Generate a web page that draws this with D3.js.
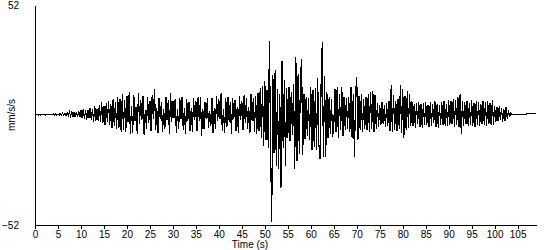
<!DOCTYPE html>
<html>
<head>
<meta charset="utf-8">
<script src="https://cdn.jsdelivr.net/npm/d3@7"></script>
<style>
  body { margin: 0; background: #fff; }
  svg { display: block; }
  .axis text { font-family: "Liberation Sans", Arial, sans-serif; font-size: 10px; fill: #000; }
  .axis path, .axis line { stroke: #000; shape-rendering: crispEdges; }
</style>
</head>
<body>
<svg id="chart" width="550" height="250"></svg>
<script>
// seismogram trace, one sample every 0.25 s (mm/s/s)
const sampleStep = 0.25;
const velocity = [
  0.3, 0.0, 0.3, 0.0, 0.3, 0.0, 0.3, 0.0,
  0.3, 0.0, 0.3, 0.3, 0.3, 0.3, 0.4, 0.3,
  0.6, 0.1, 0.7, 0.0, 0.5, -0.1, 0.8, 0.0,
  0.9, -0.2, 0.7, -0.4, 1.1, -0.3, 1.4, -0.6,
  1.6, -0.7, 1.2, -1.1, 1.5, -0.8, 1.8, -1.0,
  2.3, -1.3, 2.7, -1.8, 2.1, -2.2, 2.5, -1.6,
  3.4, -2.3, 2.7, -3.1, 4.1, -2.6, 3.0, -3.0,
  4.9, -3.2, 6.1, -3.9, 4.2, -4.5, 5.5, -3.5,
  6.5, -4.8, 5.1, -6.3, 7.4, -5.1, 6.2, -6.7,
  8.6, -5.9, 7.7, -7.8, 9.9, -7.0, 7.1, -8.2,
  9.2, -3.1, 10.7, -8.9, 4.1, -8.5, 9.4, -2.6,
  3.8, -9.1, 10.5, -4.2, 7.2, -2.5, 8.9, -9.6,
  2.5, -6.5, 8.7, -3.7, 6.8, -7.6, 9.6, -2.1,
  12.3, -7.2, 3.1, -8.6, 8.0, -1.9, 6.2, -8.0,
  2.9, -6.8, 8.5, -2.5, 7.3, -9.0, 10.4, -3.1,
  6.6, -1.6, 7.7, -8.3, 2.9, -6.5, 8.2, -2.0,
  8.4, -6.9, 3.4, -9.1, 7.6, -2.7, 6.1, -7.4,
  3.2, -7.8, 7.9, -2.2, 6.7, -7.6, 8.7, -3.0,
  8.5, -9.8, 3.0, -6.7, 6.2, -2.0, 7.8, -6.3,
  2.1, -5.4, 8.2, -8.5, 3.5, -6.6, 8.9, -2.9,
  7.4, -2.1, 10.5, -7.5, 2.8, -8.4, 8.0, -5.6,
  8.6, -3.1, 6.3, -8.8, 8.1, -1.9, 7.2, -7.7,
  3.7, -8.3, 9.1, -2.4, 6.4, -7.2, 9.5, -3.8,
  7.9, -6.6, 3.7, -8.7, 9.9, -2.9, 8.2, -8.1,
  9.0, -9.0, 10.4, -7.5, 12.7, -10.7, 13.9, -14.5,
  16.1, -12.0, 12.0, -15.7, 34.8, -13.7, -50.7, 18.8,
  -18.1, 21.3, -24.3, 12.3, -25.7, 9.8, -34.7, 25.3,
  -15.5, 16.5, -24.2, 12.9, -10.9, 13.4, -12.1, 11.1,
  -9.3, 14.5, -25.7, 27.3, -21.7, 19.3, -18.2, 17.0,
  26.3, -18.7, 10.1, -11.3, 8.7, -9.9, 7.9, -11.8,
  13.3, -16.5, 11.7, -14.9, 12.9, -16.7, 17.3, -13.5,
  -20.7, 14.9, 34.3, -19.7, 18.3, -19.7, 11.1, -10.7,
  8.4, -9.1, 7.5, -10.3, -5.7, 12.3, -7.9, 13.3,
  -10.7, 9.7, -7.3, 13.1, -10.1, 8.5, -7.1, 8.2,
  -6.5, 8.7, -7.8, 13.3, -10.9, 9.9, -19.7, 10.5,
  17.8, -11.7, 8.9, -7.1, 9.7, -7.9, 7.4, -6.6,
  8.3, -7.3, 10.1, -8.0, 10.9, -6.8, 11.3, -8.1,
  9.5, -6.5, 5.7, -5.6, 4.9, -4.9, 6.1, -4.4,
  4.5, -5.8, 5.6, -5.3, 6.7, -7.6, 14.3, -7.9,
  9.4, -7.3, 6.6, -7.7, 7.5, -6.6, 14.3, -8.7,
  12.5, -10.7, 8.8, -6.9, 11.3, -6.1, 10.1, -5.3,
  6.4, -5.0, 5.1, -5.9, 5.8, -4.3, 6.2, -5.5,
  5.0, -6.1, 5.5, -4.8, 6.3, -4.6, 4.7, -5.7,
  5.9, -5.2, 5.2, -4.0, 6.6, -5.6, 5.4, -6.3,
  4.8, -4.7, 6.1, -4.5, 6.5, -5.4, 5.1, -5.0,
  7.3, -4.8, 6.5, -4.3, 7.7, -5.5, 6.9, -4.6,
  8.6, -5.7, 9.8, -9.2, 6.4, -5.1, 6.1, -4.4,
  6.7, -5.3, 5.5, -4.6, 7.1, -5.0, 5.8, -5.7,
  6.5, -4.5, 6.0, -5.2, 5.2, -4.1, 6.8, -4.8,
  6.1, -5.3, 6.4, -4.2, 5.6, -4.9, 7.2, -4.5,
  4.4, -3.5, 3.8, -2.9, 4.2, -2.5, 3.4, -3.2,
  2.9, -2.6, 3.7, -1.9, 2.1, -1.1, 0.9, 0.3,
  0.3, 0.3, 0.3, 0.3, 0.3, 0.3, 0.3, 0.3,
  0.3, 0.3, 0.3, 0.3, 0.6, 0.6, 0.6, 0.6,
  0.6, 0.6, 0.6, 0.6, 0.6
];
const timeTicks = [0, 5, 10, 15, 20, 25, 30, 35, 40, 45, 50, 55, 60, 65, 70, 75, 80, 85, 90, 95, 100, 105];
const ampTicks = [-52, 52];
const timeExtent = [0, 109];

const svg = d3.select('#chart');

const x = d3.scaleLinear().domain(timeExtent).range([35, 536]);
const y = d3.scaleLinear().domain([-52, 52]).range([225, 5]);

// axes
svg.append('g')
  .attr('class', 'axis')
  .attr('transform', 'translate(0,225)')
  .call(d3.axisBottom(x)
    .tickValues(timeTicks)
    .tickSize(4)
    .tickSizeOuter(0)
    .tickPadding(2)
    .tickFormat(d3.format('d')));

svg.append('g')
  .attr('class', 'axis')
  .attr('transform', 'translate(35,0)')
  .call(d3.axisLeft(y)
    .tickValues(ampTicks)
    .tickSize(0)
    .tickSizeOuter(0)
    .tickPadding(16)
    .tickFormat(d3.format('d')));

// axis titles
svg.append('text')
  .attr('x', 250)
  .attr('y', 248)
  .attr('text-anchor', 'middle')
  .style('font-family', '"Liberation Sans", Arial, sans-serif')
  .style('font-size', '10px')
  .text('Time (s)');

svg.append('text')
  .attr('transform', `translate(15,${y(0)}) rotate(-90)`)
  .attr('text-anchor', 'middle')
  .style('font-family', '"Liberation Sans", Arial, sans-serif')
  .style('font-size', '10px')
  .text('mm/s/s');

// trace
const line = d3.line()
  .x((d, i) => x(i * sampleStep))
  .y(d => y(d));

svg.append('path')
  .datum(velocity)
  .attr('d', line)
  .attr('fill', 'none')
  .attr('stroke', '#000')
  .attr('stroke-width', 1.2)
  .attr('shape-rendering', 'crispEdges');
</script>
</body>
</html>
